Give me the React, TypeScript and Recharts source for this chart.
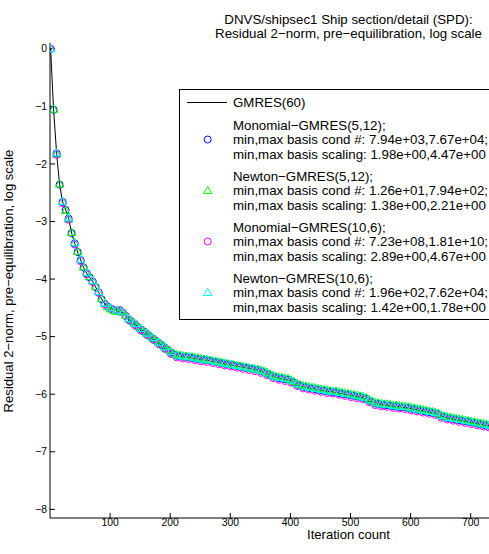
import { ComposedChart, Line, Scatter, XAxis, YAxis } from 'recharts'

// iteration counts where each solver reports its residual
const ITER_S5 = [
  1, 6, 11, 16, 21, 26, 31, 36, 41, 46,
  51, 56, 61, 66, 71, 76, 81, 86, 91, 96,
  101, 106, 111, 116, 121, 126, 131, 136, 141, 146,
  151, 156, 161, 166, 171, 176, 181, 186, 191, 196,
  201, 206, 211, 216, 221, 226, 231, 236, 241, 246,
  251, 256, 261, 266, 271, 276, 281, 286, 291, 296,
  301, 306, 311, 316, 321, 326, 331, 336, 341, 346,
  351, 356, 361, 366, 371, 376, 381, 386, 391, 396,
  401, 406, 411, 416, 421, 426, 431, 436, 441, 446,
  451, 456, 461, 466, 471, 476, 481, 486, 491, 496,
  501, 506, 511, 516, 521, 526, 531, 536, 541, 546,
  551, 556, 561, 566, 571, 576, 581, 586, 591, 596,
  601, 606, 611, 616, 621, 626, 631, 636, 641, 646,
  651, 656, 661, 666, 671, 676, 681, 686, 691, 696,
  701, 706, 711, 716, 721, 726, 731, 736,
]

const ITER_S10 = [
  1, 11, 21, 31, 41, 51, 61, 71, 81, 91,
  101, 111, 121, 131, 141, 151, 161, 171, 181, 191,
  201, 211, 221, 231, 241, 251, 261, 271, 281, 291,
  301, 311, 321, 331, 341, 351, 361, 371, 381, 391,
  401, 411, 421, 431, 441, 451, 461, 471, 481, 491,
  501, 511, 521, 531, 541, 551, 561, 571, 581, 591,
  601, 611, 621, 631, 641, 651, 661, 671, 681, 691,
  701, 711, 721, 731,
]

const ITER_GMRES = [
  1, 6, 11, 16, 21, 26, 31, 36, 41, 46,
  51, 56, 61, 66, 71, 76, 81, 86, 91, 96, 101,
  111, 121, 131, 141, 151, 161, 171, 181, 191, 201,
  211, 221, 231, 241, 251, 261, 271, 281, 291, 301,
  311, 321, 331, 341, 351, 361, 371, 381, 391, 401,
  411, 421, 431, 441, 451, 461, 471, 481, 491, 501,
  511, 521, 531, 541, 551, 561, 571, 581, 591, 601,
  611, 621, 631, 641, 651, 661, 671, 681, 691, 701,
  711, 721, 731, 741,
]

// log10 of relative residual 2-norm
const GMRES60 = [
  0, -1.06, -1.82, -2.36, -2.66, -2.8, -2.95, -3.2, -3.38, -3.53,
  -3.67, -3.8, -3.9, -3.97, -4.04, -4.14, -4.23, -4.35, -4.43, -4.48, -4.51,
  -4.55, -4.58, -4.7, -4.78, -4.87, -4.95, -5.03, -5.11, -5.19, -5.27,
  -5.33, -5.35, -5.36, -5.38, -5.4, -5.41, -5.43, -5.45, -5.47, -5.49,
  -5.51, -5.53, -5.55, -5.57, -5.6, -5.64, -5.69, -5.72, -5.74, -5.77,
  -5.83, -5.87, -5.89, -5.91, -5.93, -5.95, -5.96, -5.98, -6.0, -6.02,
  -6.04, -6.06, -6.11, -6.16, -6.18, -6.19, -6.21, -6.22, -6.23, -6.25,
  -6.27, -6.29, -6.31, -6.33, -6.38, -6.41, -6.43, -6.45, -6.47, -6.49,
  -6.51, -6.53, -6.55, -6.57,
]

const MONO_5_12 = [
  0, -1.06, -1.82, -2.36, -2.66, -2.8, -2.95, -3.2, -3.38, -3.53,
  -3.67, -3.8, -3.9, -3.97, -4.04, -4.14, -4.23, -4.35, -4.43, -4.48,
  -4.51, -4.54, -4.55, -4.54, -4.58, -4.64, -4.7, -4.74, -4.78, -4.83,
  -4.87, -4.91, -4.95, -4.99, -5.03, -5.07, -5.11, -5.15, -5.19, -5.23,
  -5.27, -5.31, -5.33, -5.34, -5.35, -5.35, -5.36, -5.37, -5.38, -5.39,
  -5.4, -5.4, -5.41, -5.42, -5.43, -5.44, -5.45, -5.46, -5.47, -5.48,
  -5.49, -5.5, -5.51, -5.52, -5.53, -5.54, -5.55, -5.56, -5.57, -5.58,
  -5.6, -5.62, -5.64, -5.67, -5.69, -5.71, -5.72, -5.73, -5.74, -5.75,
  -5.77, -5.8, -5.83, -5.85, -5.87, -5.88, -5.89, -5.9, -5.91, -5.92,
  -5.93, -5.94, -5.95, -5.96, -5.96, -5.97, -5.98, -5.99, -6.0, -6.01,
  -6.02, -6.03, -6.04, -6.05, -6.06, -6.08, -6.11, -6.14, -6.16, -6.17,
  -6.18, -6.19, -6.19, -6.2, -6.21, -6.21, -6.22, -6.23, -6.23, -6.24,
  -6.25, -6.26, -6.27, -6.28, -6.29, -6.3, -6.31, -6.32, -6.33, -6.35,
  -6.38, -6.4, -6.41, -6.42, -6.43, -6.44, -6.45, -6.46, -6.47, -6.48,
  -6.49, -6.5, -6.51, -6.52, -6.53, -6.54, -6.55, -6.56,
]

const NEWTON_5_12 = [
  0, -1.05, -1.83, -2.35, -2.65, -2.81, -2.96, -3.19, -3.37, -3.52,
  -3.66, -3.79, -3.89, -3.96, -4.03, -4.13, -4.22, -4.34, -4.42, -4.48,
  -4.52, -4.55, -4.56, -4.55, -4.58, -4.63, -4.69, -4.73, -4.77, -4.82,
  -4.86, -4.9, -4.94, -4.98, -5.02, -5.06, -5.1, -5.14, -5.18, -5.22,
  -5.26, -5.29, -5.31, -5.32, -5.33, -5.34, -5.35, -5.35, -5.36, -5.37,
  -5.38, -5.39, -5.4, -5.41, -5.42, -5.43, -5.44, -5.45, -5.46, -5.47,
  -5.48, -5.49, -5.5, -5.51, -5.52, -5.53, -5.54, -5.55, -5.56, -5.57,
  -5.58, -5.6, -5.62, -5.65, -5.67, -5.69, -5.7, -5.71, -5.72, -5.73,
  -5.75, -5.78, -5.81, -5.83, -5.85, -5.86, -5.87, -5.88, -5.89, -5.9,
  -5.91, -5.92, -5.93, -5.94, -5.95, -5.95, -5.96, -5.97, -5.98, -5.99,
  -6.0, -6.01, -6.02, -6.03, -6.04, -6.06, -6.09, -6.12, -6.14, -6.15,
  -6.16, -6.17, -6.17, -6.18, -6.19, -6.19, -6.2, -6.21, -6.21, -6.22,
  -6.23, -6.24, -6.25, -6.26, -6.27, -6.28, -6.29, -6.3, -6.31, -6.33,
  -6.36, -6.38, -6.39, -6.4, -6.41, -6.42, -6.43, -6.44, -6.45, -6.46,
  -6.47, -6.48, -6.49, -6.5, -6.51, -6.52, -6.53, -6.54,
]

const MONO_10_6 = [
  0, -1.84, -2.68, -2.97, -3.4, -3.69, -3.92, -4.05, -4.24, -4.44,
  -4.51, -4.54, -4.58, -4.71, -4.8, -4.89, -4.97, -5.05, -5.13, -5.21,
  -5.3, -5.36, -5.38, -5.39, -5.41, -5.43, -5.44, -5.46, -5.48, -5.5,
  -5.52, -5.54, -5.56, -5.58, -5.6, -5.63, -5.67, -5.72, -5.75, -5.77,
  -5.8, -5.86, -5.9, -5.92, -5.94, -5.96, -5.98, -5.99, -6.01, -6.03,
  -6.05, -6.07, -6.09, -6.14, -6.19, -6.21, -6.22, -6.24, -6.25, -6.26,
  -6.28, -6.3, -6.32, -6.34, -6.36, -6.41, -6.44, -6.46, -6.48, -6.5,
  -6.52, -6.54, -6.56, -6.58,
]

const NEWTON_10_6 = [
  0, -1.81, -2.65, -2.94, -3.37, -3.66, -3.89, -4.03, -4.22, -4.42,
  -4.5, -4.54, -4.57, -4.69, -4.77, -4.86, -4.94, -5.02, -5.1, -5.18,
  -5.26, -5.32, -5.34, -5.35, -5.37, -5.39, -5.4, -5.42, -5.44, -5.46,
  -5.48, -5.5, -5.52, -5.54, -5.56, -5.59, -5.63, -5.68, -5.71, -5.73,
  -5.76, -5.82, -5.86, -5.88, -5.9, -5.92, -5.94, -5.95, -5.97, -5.99,
  -6.01, -6.03, -6.05, -6.1, -6.15, -6.17, -6.18, -6.2, -6.21, -6.22,
  -6.24, -6.26, -6.28, -6.3, -6.32, -6.37, -6.4, -6.42, -6.44, -6.46,
  -6.48, -6.5, -6.52, -6.54,
]

// only the ticks that fall inside the cropped view
const X_TICKS = [100, 200, 300, 400, 500, 600, 700]
const Y_TICKS = [-8, -7, -6, -5, -4, -3, -2, -1, 0]

const TITLE = [
  'DNVS/shipsec1 Ship section/detail (SPD):',
  'Residual 2\u2212norm, pre\u2212equilibration, log scale',
]

const LEGEND = [
  {
    color: '#0000ff',
    marker: 'circle',
    lines: [
      'Monomial\u2212GMRES(5,12);',
      'min,max basis cond #: 7.94e+03,7.67e+04;',
      'min,max basis scaling: 1.98e+00,4.47e+00',
    ],
  },
  {
    color: '#00ff00',
    marker: 'triangle',
    lines: [
      'Newton\u2212GMRES(5,12);',
      'min,max basis cond #: 1.26e+01,7.94e+02;',
      'min,max basis scaling: 1.38e+00,2.21e+00',
    ],
  },
  {
    color: '#ff00ff',
    marker: 'circle',
    lines: [
      'Monomial\u2212GMRES(10,6);',
      'min,max basis cond #: 7.23e+08,1.81e+10;',
      'min,max basis scaling: 2.89e+00,4.67e+00',
    ],
  },
  {
    color: '#00ffff',
    marker: 'triangle',
    lines: [
      'Newton\u2212GMRES(10,6);',
      'min,max basis cond #: 1.96e+02,7.62e+04;',
      'min,max basis scaling: 1.42e+00,1.78e+00',
    ],
  },
]

const FONT = '"Liberation Sans", Arial, Helvetica, sans-serif'

const toPoints = (its: number[], vals: number[]) => its.map((it, i) => ({ it, v: vals[i] }))

const minus = (v: number) => (v < 0 ? '\u2212' + Math.abs(v) : String(v))

function Marker({ kind, x, y, color }: { kind: string; x: number; y: number; color: string }) {
  if (kind === 'circle') {
    return <circle cx={x} cy={y} r={3.5} fill="none" stroke={color} strokeWidth={1} />
  }
  return (
    <polygon
      points={`${x},${y - 4.2} ${x - 4.2},${y + 3} ${x + 4.2},${y + 3}`}
      fill="none"
      stroke={color}
      strokeWidth={1}
    />
  )
}

const shapeOf = (kind: string, color: string) => (p: any) =>
  <Marker kind={kind} x={p.cx} y={p.cy} color={color} />

export default function App() {
  return (
    <div
      style={{
        position: 'fixed',
        left: 0,
        top: 0,
        width: 489,
        height: 554,
        overflow: 'hidden',
        background: '#fff',
        fontFamily: FONT,
      }}
    >
      <div style={{ position: 'relative', width: 651, height: 554 }}>
        <ComposedChart width={651} height={554} margin={{ top: 43, right: 0, bottom: 0, left: 0 }}>
          <XAxis
            type="number"
            dataKey="it"
            domain={[0, 1000]}
            ticks={X_TICKS}
            height={36}
            tickSize={-5}
            tickMargin={6}
            axisLine={{ stroke: '#000' }}
            tickLine={{ stroke: '#000' }}
            tick={{ fill: '#000', fontSize: 10.4 }}
            allowDataOverflow
          />
          <YAxis
            type="number"
            dataKey="v"
            domain={[-8.15, 0.1]}
            ticks={Y_TICKS}
            width={50}
            tickSize={-5}
            tickMargin={8}
            tickFormatter={minus}
            axisLine={{ stroke: '#000' }}
            tickLine={{ stroke: '#000' }}
            tick={{ fill: '#000', fontSize: 10.4 }}
            allowDataOverflow
          />
          <Line
            data={toPoints(ITER_GMRES, GMRES60)}
            dataKey="v"
            stroke="#000"
            strokeWidth={1}
            dot={false}
            isAnimationActive={false}
          />
          <Scatter
            data={toPoints(ITER_S5, MONO_5_12)}
            shape={shapeOf('circle', '#0000ff')}
            isAnimationActive={false}
          />
          <Scatter
            data={toPoints(ITER_S5, NEWTON_5_12)}
            shape={shapeOf('triangle', '#00ff00')}
            isAnimationActive={false}
          />
          <Scatter
            data={toPoints(ITER_S10, MONO_10_6)}
            shape={shapeOf('circle', '#ff00ff')}
            isAnimationActive={false}
          />
          <Scatter
            data={toPoints(ITER_S10, NEWTON_10_6)}
            shape={shapeOf('triangle', '#00ffff')}
            isAnimationActive={false}
          />
        </ComposedChart>

        <svg
          width={651}
          height={554}
          style={{ position: 'absolute', left: 0, top: 0, pointerEvents: 'none' }}
          fontFamily={FONT}
        >
          {TITLE.map((t, i) => (
            <text key={t} x={348.5} y={24 + i * 14} textAnchor="middle" fontSize={13.3} fill="#000">
              {t}
            </text>
          ))}
          <text x={348.5} y={539} textAnchor="middle" fontSize={13.1} fill="#000">
            Iteration count
          </text>
          <text
            x={13}
            y={281}
            textAnchor="middle"
            fontSize={13.1}
            fill="#000"
            transform="rotate(-90 13 281)"
          >
            Residual 2{'\u2212'}norm, pre{'\u2212'}equilibration, log scale
          </text>

          <rect x={179.5} y={89.5} width={460} height={230} fill="#fff" stroke="#000" strokeWidth={1} />
          <line x1={187} y1={102.5} x2={227} y2={102.5} stroke="#000" strokeWidth={1} />
          <text x={233} y={107} fontSize={13.3} fill="#000">
            GMRES(60)
          </text>
          {LEGEND.map((item, g) => {
            const mid = 139.5 + g * 51
            return (
              <g key={item.lines[0]}>
                <Marker kind={item.marker} x={207.7} y={mid} color={item.color} />
                {item.lines.map((ln, j) => (
                  <text key={ln} x={233} y={mid + (j - 1) * 14.3 + 4.8} fontSize={13.3} fill="#000">
                    {ln}
                  </text>
                ))}
              </g>
            )
          })}
        </svg>
      </div>
    </div>
  )
}
